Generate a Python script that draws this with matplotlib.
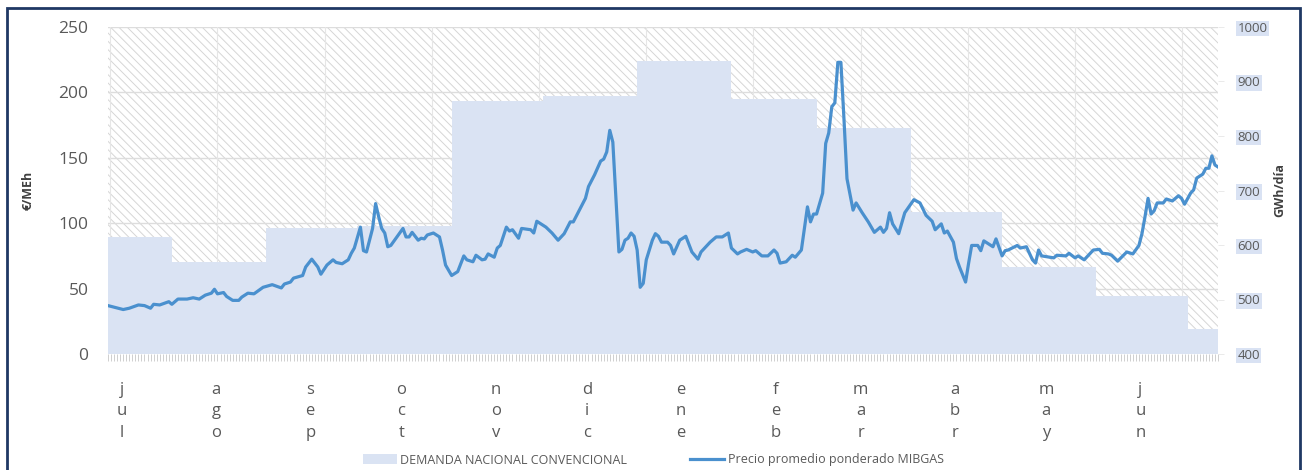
import numpy as np
import matplotlib
matplotlib.use("Agg")
import matplotlib.pyplot as plt
from matplotlib.patches import Rectangle

plt.rcParams['font.family'] = ['Open Sans', 'DejaVu Sans']
plt.rcParams['hatch.linewidth'] = 0.7

# dias desde el 1 de julio
price_day = [0, 5, 7, 10, 12, 14, 15, 17, 20, 21, 23, 26, 28, 30, 32, 34, 35, 36, 38, 39, 41, 43, 44, 46, 48, 51, 54, 57, 58, 60, 61,
             64, 65, 67, 69, 70, 72, 74, 75, 77, 79, 80, 81, 83, 84, 85, 87, 88, 89, 90, 91, 92, 93, 95, 97, 98, 99, 100, 102, 103, 104,
             105, 107, 109, 110, 111, 113, 115, 117, 118, 120, 121,
             123, 124, 125, 127, 128, 129, 131, 132, 133, 135, 136, 139, 140, 141, 144, 146, 148, 150, 152, 153, 155, 157, 158, 160, 162,
             163, 164, 165, 166, 168, 169, 170, 171, 172, 173, 174, 175, 176, 177, 179, 180, 181, 182, 183,
             184, 185, 186, 188, 190, 192, 194, 195, 198, 200, 202, 204, 205, 207, 208, 210, 212, 213, 215, 217, 219, 220, 221, 223, 225,
             226, 228, 230, 231, 232, 233, 235, 236, 237, 238, 239, 240, 241, 242, 243, 244,
             245, 246, 248, 250, 252, 254, 255, 256, 257, 258, 260, 262, 265, 267, 269, 271, 272, 274, 275, 276, 278, 279, 280, 282, 283,
             284, 286, 287, 288, 291, 292, 294, 295, 296, 299, 300, 302, 304, 305,
             306, 307, 311, 312, 315, 316, 318, 319, 321, 324, 326, 327, 329, 330, 332, 335, 337, 339, 340, 341, 342, 343, 344, 345, 347,
             348, 350, 352, 353, 354, 356, 357, 358, 360, 361, 362, 363, 364, 365]
price = [37, 34, 35, 37.5, 37, 35, 38, 37.5, 40, 38, 42, 42, 43, 42, 45, 46.5, 49.5, 46, 47, 44, 41, 41, 43.5, 46.5, 46, 51, 53, 50.5, 53.5, 55, 58,
         60, 66.5, 72.5, 66.5, 61, 68, 72, 70, 69, 72, 77, 81, 97, 79, 78, 96, 115, 105, 96, 92.5, 82, 83, 89.5, 96, 89.5, 89.5, 93, 87, 88.5, 88,
         91, 92.5, 89.5, 79.5, 68, 60, 63, 75, 72, 70.5, 75.5,
         72, 72.5, 76.5, 74, 81, 83, 97, 94, 95, 88.5, 96, 95, 92.5, 101.5, 97, 92.5, 87, 92, 101, 101, 110, 119, 128, 137, 147.5,
         149, 154.5, 171, 162, 78, 80, 87, 88.5, 92.5, 90, 79.5, 51, 54, 72, 87, 92, 90, 85.5, 85.5,
         85.5, 83, 76.5, 87, 90, 78, 72.5, 78, 85.5, 89.5, 89.5, 92.5, 81, 76.5, 78, 80, 78, 79, 75, 75, 79.5, 77, 69.5, 70.5, 75.5,
         74, 79.5, 112.5, 101, 107, 107, 123, 161, 169, 189, 192, 223, 223, 180, 134, 122,
         110, 115.5, 108, 101, 93, 97, 93, 96, 108, 99.5, 92, 108, 118, 115.5, 106, 101.5, 95, 99.5, 92.5, 94, 85.5, 73, 66.5, 55, 69.5,
         83, 83, 79, 86.5, 82, 88, 75, 79, 79.5, 83, 81, 82, 72, 69.5,
         79.5, 75, 73.5, 75.5, 75, 77, 73.5, 75, 72, 79.5, 80, 77, 76.5, 75.5, 71, 78, 76.5, 83, 92, 105, 119, 107, 109.5, 115.5, 115.5,
         118.5, 117, 121, 119, 114.5, 123, 125.5, 134.5, 137.5, 142, 142, 151.5, 144.5, 143]

# demanda nacional convencional (GWh/dia), escalones
dem_edges = [0, 21, 52, 82, 113, 143, 174, 205, 233, 264, 294, 325, 355, 365]
dem_vals = [614, 569, 631, 635, 864, 873, 938, 868, 815, 660, 560, 506, 446]

month_start = [0, 31, 62, 92, 123, 153, 184, 215, 243, 274, 304, 335]
month_lbl = ['jul', 'ago', 'sep', 'oct', 'nov', 'dic', 'ene', 'feb', 'mar', 'abr', 'may', 'jun']

grey = '#595959'
W, H = 1305, 470
fig = plt.figure(figsize=(W / 100, H / 100), dpi=100)
ax2 = fig.add_axes([108 / W, 1 - 354 / H, 1110 / W, 327 / H])
ax = ax2.twinx()
ax.yaxis.tick_left()
ax.yaxis.set_label_position('left')
ax2.yaxis.tick_right()
ax2.yaxis.set_label_position('right')
ax.set_zorder(ax2.get_zorder() + 1)
ax.patch.set_visible(False)

# fondo rayado
ax2.axvspan(0, 365, facecolor='white', edgecolor='#D6D6D6', hatch='\\' * 4, linewidth=0, zorder=0)

# rejilla
for v in [50, 100, 150, 200, 250]:
    ax2.axhline(400 + v * 600 / 250, color='#DDDDDD', lw=1.0, zorder=1)
for d in np.arange(0.7, 365, 35.25):
    ax2.axvline(d, color='#E6E6E6', lw=0.8, zorder=1)

# area de demanda
ax2.fill_between(dem_edges, dem_vals + [dem_vals[-1]], 400, step='post',
                 color='#DAE3F3', linewidth=0, zorder=2)
ax2.set_ylim(400, 1000)
ax2.set_yticks(range(400, 1001, 100))

# precio
ax.plot(price_day, price, color='#4A90CE', lw=2.3, solid_joinstyle='round', zorder=3)
ax.set_ylim(0, 250)
ax.set_yticks(range(0, 251, 50))
ax.set_xlim(0, 365)

for a in (ax, ax2):
    for s in a.spines.values():
        s.set_visible(False)

ax.tick_params(axis='y', length=0, pad=14, labelsize=12.5, labelcolor=grey)
ax2.tick_params(axis='y', length=4, width=0.6, color='#E6E6E6', pad=10, labelsize=9.5, labelcolor=grey)
for t in ax2.get_yticklabels():
    t.set_bbox(dict(facecolor='#D9E2F3', edgecolor='none', pad=1.0))

ax2.set_xticks([m + 4.5 for m in month_start])
ax2.set_xticklabels(['\n'.join(m) for m in month_lbl], linespacing=1.45)
ax2.set_xticks(np.arange(0, 366, 1), minor=True)
ax2.tick_params(axis='x', which='major', length=0, pad=20, labelsize=12, labelcolor=grey)
ax2.tick_params(axis='x', which='minor', length=5, width=0.6, color='#C8C8C8')
ax.tick_params(axis='x', which='both', length=0, labelbottom=False, labeltop=False)

fig.text(28 / W, 1 - 190 / H, '€/MEh', rotation=90, ha='center', va='center',
         fontsize=9, fontweight='bold', color='#404040')
fig.text(1280 / W, 1 - 190 / H, 'GWh/día', rotation=90, ha='center', va='center',
         fontsize=9, fontweight='bold', color='#404040')

# leyenda
h1 = Rectangle((0, 0), 1, 1, facecolor='#DAE3F3', edgecolor='none')
h2, = ax.plot([], [], color='#4A90CE', lw=2.3)
leg = fig.legend([h1, h2], ['DEMANDA NACIONAL CONVENCIONAL', 'Precio promedio ponderado MIBGAS'],
                 ncol=2, loc='center left', bbox_to_anchor=(363 / W, 1 - 460 / H), frameon=False,
                 fontsize=9, handlelength=2.7, handletextpad=0.3, columnspacing=5.0,
                 borderpad=0, borderaxespad=0, handleheight=0.8)
for t in leg.get_texts():
    t.set_color(grey)

# marco
fig.add_artist(Rectangle((7 / W, -0.1), (1300 - 7) / W, 1.1 - 8 / H, transform=fig.transFigure,
                         fill=False, edgecolor='#1F3864', lw=2))

fig.savefig('out.png', dpi=100)
